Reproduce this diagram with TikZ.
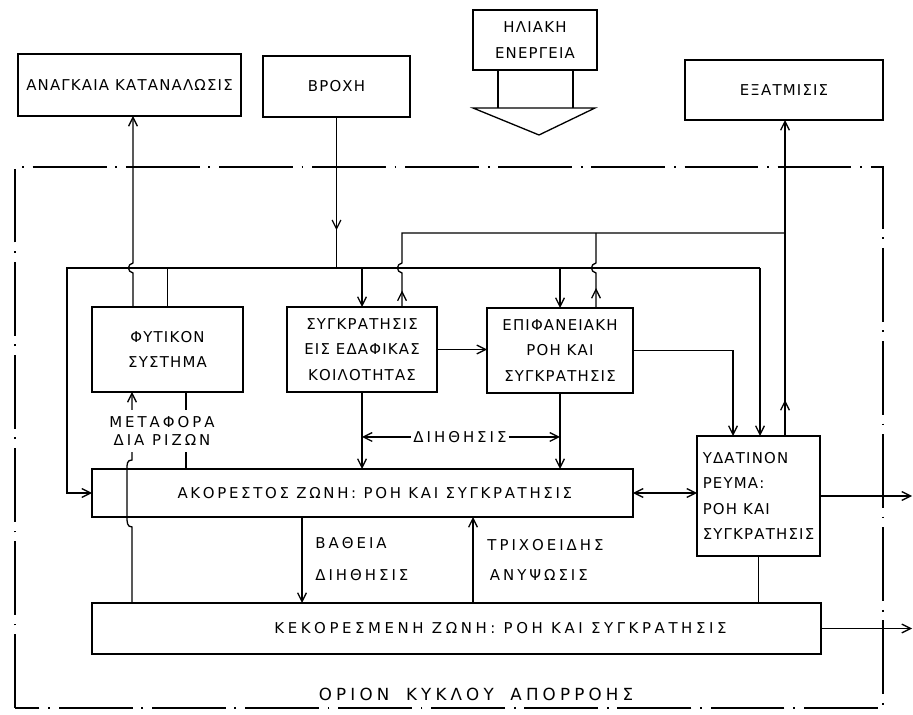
\documentclass[tikz,border=0pt]{standalone}
\usepackage{fontspec}
\newfontfamily\grieks[LetterSpace=8]{DejaVu Sans}
\newfontfamily\grieksbreed[LetterSpace=20]{DejaVu Sans}
\usepackage{tikz}
\usetikzlibrary{arrows.meta,positioning,decorations.markings}

\begin{document}
\begin{tikzpicture}[x=0.02cm,y=-0.02cm,line width=0.75pt,
  >={Straight Barb[length=5pt,width=5pt]},
  blok/.style={draw,outer sep=0pt,inner sep=2pt,align=center,font=\grieks\fontsize{8.5}{14.5}\selectfont},
  lbl/.style={inner sep=1pt,font=\grieksbreed\fontsize{8.5}{10}\selectfont},
  grens/.style={dash pattern=on 42pt off 5pt on 1pt off 5pt},
  pijl/.style={postaction={decorate,decoration={markings,mark=at position #1 with {\arrow{>}}}}}]
\useasboundingbox (0,0) rectangle (913,715);

%Outside
\node[blok,minimum width=4.46cm,minimum height=1.24cm] (anag) at (129.5,85) {ΑΝΑΓΚΑΙΑ ΚΑΤΑΝΑΛΩΣΙΣ};
\node[blok,minimum width=2.94cm,minimum height=1.22cm] (vroxi) at (336.5,86.5) {ΒΡΟΧΗ};
\node[blok,minimum width=2.48cm,minimum height=1.2cm] (ilio) at (535,40) {ΗΛΙΑΚΗ\\ΕΝΕΡΓΕΙΑ};
\node[blok,minimum width=3.96cm,minimum height=1.2cm] (exat) at (784,90) {ΕΞΑΤΜΙΣΙΣ};
\draw (498,0 |- ilio.south) -- (498,108);
\draw (573,0 |- ilio.south) -- (573,108);
\draw (473,108) -- (595,108) -- (539,135) -- cycle;

%Boundary
\draw[grens] (15,708) -- (15,167) -- (883,167) -- (883,708) -- cycle;
\node[lbl,font=\grieks\fontsize{9.5}{10}\selectfont\addfontfeature{LetterSpace=25}] (orion) at (476,694) {ΟΡΙΟΝ\quad ΚΥΚΛΟΥ\quad ΑΠΟΡΡΟΗΣ};

%Stores
\node[blok,minimum width=3.02cm,minimum height=1.7cm] (fyto) at (167.5,349.5) {ΦΥΤΙΚΟΝ\\ΣΥΣΤΗΜΑ};
\node[blok,minimum width=3.0cm,minimum height=1.7cm] (sygk) at (362,349.5) {ΣΥΓΚΡΑΤΗΣΙΣ\\ΕΙΣ ΕΔΑΦΙΚΑΣ\\ΚΟΙΛΟΤΗΤΑΣ};
\node[blok,minimum width=2.92cm,minimum height=1.7cm] (epif) at (560,350.5) {ΕΠΙΦΑΝΕΙΑΚΗ\\ΡΟΗ ΚΑΙ\\ΣΥΓΚΡΑΤΗΣΙΣ};
\node[blok,align=left,minimum width=2.46cm,minimum height=2.4cm] (ydat) at (758.5,496) {ΥΔΑΤΙΝΟΝ\\ΡΕΥΜΑ:\\ΡΟΗ ΚΑΙ\\ΣΥΓΚΡΑΤΗΣΙΣ};
\node[blok,minimum width=10.82cm,minimum height=0.96cm] (akor) at (362.5,493) {\addfontfeature{LetterSpace=18}\hspace*{14pt}ΑΚΟΡΕΣΤΟΣ ΖΩΝΗ: ΡΟΗ ΚΑΙ ΣΥΓΚΡΑΤΗΣΙΣ};
\node[blok,minimum width=14.58cm,minimum height=1.02cm] (keko) at (456.5,628.5) {\addfontfeature{LetterSpace=24}\hspace*{50pt}ΚΕΚΟΡΕΣΜΕΝΗ ΖΩΝΗ: ΡΟΗ ΚΑΙ ΣΥΓΚΡΑΤΗΣΙΣ};
\coordinate (uit1) at (912,496);
\coordinate (uit2) at (912,630);

%Lower bus
\coordinate (busL) at (67,268);
\coordinate (busR) at (760,268);
\draw[pijl=0.75] (vroxi.south) -- (vroxi.south |- busL);
\draw[->] (busR) -- (busL) -- (busL |- akor.west) -- (akor.west);
\draw[->] (busR) -- (busR |- ydat.north);
\draw[->] (sygk.north |- busL) -- (sygk.north);
\draw[->] (epif.north |- busL) -- (epif.north);
\draw (fyto.north) -- (fyto.north |- busL);
\draw[->] (133,0 |- fyto.north) -- (133,273) .. controls (127,272) and (127,264) .. (133,263) -- (133,0 |- anag.south);

%Upper bus
\coordinate (topL) at (402,233);
\coordinate (topR) at (785,233);
\draw[pijl=0.33cm] (402,0 |- sygk.north) -- (402,273) .. controls (396,272) and (396,264) .. (402,263) -- (topL) -- (topR);
\draw[pijl=0.4cm] (596,0 |- epif.north) -- (596,273) .. controls (590,272) and (590,264) .. (596,263) -- (596,0 |- topL);
\draw[pijl=0.72cm,->] (topR |- ydat.north) -- (topR) -- (topR |- exat.south);

%Side flows
\draw[->] (sygk.east) -- (sygk.east -| epif.west);
\draw[->] (epif.east) -- (733,0 |- epif.east) -- (733,0 |- ydat.north);
\draw[->] (sygk.south) -- (sygk.south |- akor.north);
\draw[->] (epif.south) -- (epif.south |- akor.north);
\node[lbl] (dih) at (460,437) {ΔΙΗΘΗΣΙΣ};
\draw[->] (dih.west) -- (dih.west -| sygk.south);
\draw[->] (dih.east) -- (dih.east -| epif.south);
\draw[<->] (akor.east) -- (akor.east -| ydat.west);
\draw[->] (ydat.east) -- (ydat.east -| uit1);
\draw[->] (keko.east) -- (keko.east -| uit2);
\draw (ydat.south) -- (ydat.south |- keko.north);

%Deep
\draw[->] (302,0 |- akor.south) -- (302,0 |- keko.north);
\draw[->] (473,0 |- keko.north) -- (473,0 |- akor.south);
\node[lbl,anchor=west,align=left] (vath) at (313,559) {ΒΑΘΕΙΑ\\[8pt]ΔΙΗΘΗΣΙΣ};
\node[lbl,anchor=west,align=left] (trix) at (485,560) {ΤΡΙΧΟΕΙΔΗΣ\\[7pt]\,ΑΝΥΨΩΣΙΣ};

%Roots
\draw[->] (132,0 |- keko.north) -- (132,527) .. controls (127,527) and (127,522) .. (127,517) -- (127,469) .. controls (127,464) and (127,460) .. (132,460) -- (132,0 |- fyto.south);
\draw (186,0 |- fyto.south) -- (186,0 |- akor.north);
\node[lbl,fill=white,align=center,inner ysep=4pt] (meta) at (162,431) {ΜΕΤΑΦΟΡΑ\\ΔΙΑ ΡΙΖΩΝ};

\end{tikzpicture}
\end{document}
